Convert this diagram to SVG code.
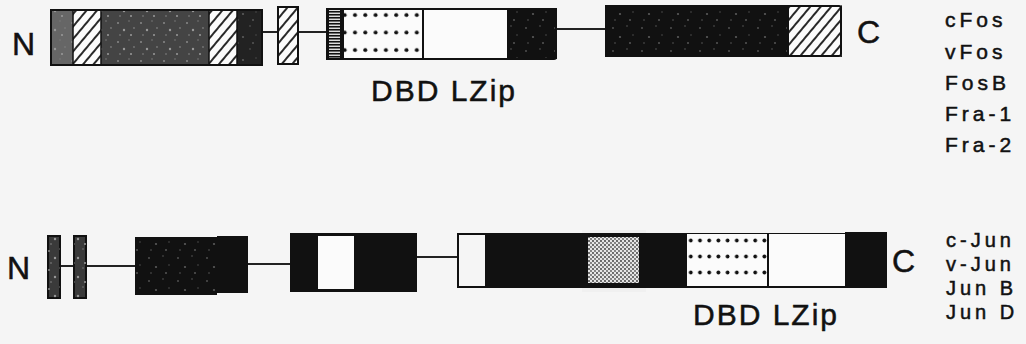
<svg xmlns="http://www.w3.org/2000/svg" width="1026" height="344" viewBox="0 0 1026 344">
  <defs>
    <pattern id="hatch" patternUnits="userSpaceOnUse" width="8" height="8" patternTransform="rotate(40)">
      <rect width="8" height="8" fill="#fbfbfb"/>
      <line x1="1" y1="0" x2="1" y2="8" stroke="#111" stroke-width="1.8"/>
    </pattern>
    <pattern id="speckle" patternUnits="userSpaceOnUse" width="23" height="19">
      <circle cx="3" cy="4" r="1" fill="#888"/>
      <circle cx="14" cy="2" r="0.8" fill="#777"/>
      <circle cx="9" cy="11" r="1.2" fill="#999"/>
      <circle cx="19" cy="9" r="0.9" fill="#777"/>
      <circle cx="5" cy="16" r="0.8" fill="#888"/>
      <circle cx="16" cy="16" r="1" fill="#999"/>
    </pattern>
    <pattern id="speckleDark" patternUnits="userSpaceOnUse" width="29" height="23">
      <circle cx="4" cy="5" r="0.9" fill="#555"/>
      <circle cx="18" cy="3" r="0.7" fill="#666"/>
      <circle cx="11" cy="14" r="1.1" fill="#5a5a5a"/>
      <circle cx="24" cy="12" r="0.8" fill="#4a4a4a"/>
      <circle cx="6" cy="20" r="0.7" fill="#666"/>
      <circle cx="21" cy="20" r="1" fill="#555"/>
    </pattern>
    <pattern id="dotsTop" patternUnits="userSpaceOnUse" x="350" y="7" width="10.3" height="17.5">
      <circle cx="5" cy="8" r="2" fill="#111"/>
    </pattern>
    <pattern id="dotsBot" patternUnits="userSpaceOnUse" x="695" y="232" width="9.2" height="16">
      <circle cx="5" cy="8.5" r="1.9" fill="#111"/>
    </pattern>
    <pattern id="stipple" patternUnits="userSpaceOnUse" width="4" height="4">
      <rect width="4" height="4" fill="#e6e6e6"/>
      <circle cx="1" cy="1" r="0.9" fill="#333"/>
      <circle cx="3" cy="3" r="0.9" fill="#555"/>
    </pattern>
    <pattern id="comb" patternUnits="userSpaceOnUse" x="326" y="9" width="18" height="3">
      <rect width="18" height="3" fill="#111"/>
      <rect x="3" y="0.6" width="11" height="1.3" fill="#f4f4f4"/>
    </pattern>
    <style>
      .lbl { font-family: "Liberation Sans", Arial, sans-serif; fill: #111; stroke: #111; stroke-width: 0.5px; }
      .end { font-size: 32px; }
      .dbd { font-size: 30px; letter-spacing: 2px; }
      .fos { font-size: 21px; letter-spacing: 4px; }
      .jun { font-size: 20px; letter-spacing: 4px; }
      .blk { fill: #111; }
      .ol { fill: none; stroke: #111; stroke-width: 2; }
      .conn line { stroke: #222; stroke-width: 2; }
    </style>
  </defs>

  <rect width="1026" height="344" fill="#f5f5f5"/>

  <!-- connectors -->
  <g id="connectors" class="conn">
    <line x1="262" y1="32" x2="278" y2="32"/>
    <line x1="298" y1="32" x2="326" y2="32"/>
    <line x1="557" y1="29" x2="605" y2="29"/>
    <line x1="60" y1="266" x2="73" y2="266"/>
    <line x1="86" y1="266" x2="135" y2="266"/>
    <line x1="248" y1="264" x2="290" y2="264"/>
    <line x1="417" y1="257" x2="457" y2="257"/>
  </g>

  <!-- Fos family -->
  <g id="fos-n-region">
    <rect x="51" y="10" width="22" height="55" fill="#666"/>
    <rect x="51" y="10" width="22" height="55" fill="url(#speckle)"/>
    <rect x="73" y="10" width="28" height="55" fill="url(#hatch)"/>
    <rect x="101" y="10" width="108" height="55" fill="#444"/>
    <rect x="101" y="10" width="108" height="55" fill="url(#speckle)"/>
    <rect x="209" y="10" width="28" height="55" fill="url(#hatch)"/>
    <rect x="237" y="10" width="25" height="55" fill="#222"/>
    <rect x="237" y="10" width="25" height="55" fill="url(#speckleDark)"/>
    <rect x="51" y="10" width="211" height="55" class="ol"/>
    <line x1="73" y1="10" x2="73" y2="65" stroke="#111" stroke-width="1.5"/>
    <line x1="101" y1="10" x2="101" y2="65" stroke="#111" stroke-width="1.5"/>
    <line x1="209" y1="10" x2="209" y2="65" stroke="#111" stroke-width="1.5"/>
    <line x1="237" y1="10" x2="237" y2="65" stroke="#111" stroke-width="1.5"/>
  </g>
  <g id="fos-small-hatched">
    <rect x="278" y="7" width="20" height="57" fill="url(#hatch)" stroke="#111" stroke-width="2"/>
  </g>
  <g id="fos-dbd-lzip">
    <rect x="326" y="8" width="18" height="52" fill="url(#comb)"/>
    <rect x="344" y="8" width="79" height="52" fill="#fbfbfb"/>
    <rect x="344" y="8" width="79" height="52" fill="url(#dotsTop)"/>
    <rect x="423" y="8" width="84" height="52" fill="#fbfbfb"/>
    <rect x="507" y="8" width="50" height="51" class="blk"/>
    <rect x="507" y="8" width="50" height="51" fill="url(#speckleDark)"/>
    <rect x="327" y="9" width="229" height="50" class="ol" rx="2"/>
    <line x1="423" y1="8" x2="423" y2="60" stroke="#111" stroke-width="2"/>
    <text x="371" y="101" class="lbl dbd">DBD LZip</text>
  </g>
  <g id="fos-c-region">
    <rect x="605" y="5" width="183" height="52" class="blk"/>
    <rect x="605" y="5" width="183" height="52" fill="url(#speckleDark)"/>
    <rect x="788" y="5" width="54" height="52" fill="url(#hatch)"/>
    <rect x="606" y="6" width="235" height="50" class="ol" rx="2"/>
    <line x1="788" y1="5" x2="788" y2="57" stroke="#111" stroke-width="2"/>
  </g>
  <g id="fos-labels">
    <text x="12" y="55" class="lbl end">N</text>
    <text x="857" y="43" class="lbl end">C</text>
    <text x="945" y="27" class="lbl fos">cFos</text>
    <text x="945" y="59" class="lbl fos">vFos</text>
    <text x="945" y="90" class="lbl fos">FosB</text>
    <text x="945" y="121" class="lbl fos">Fra-1</text>
    <text x="945" y="152" class="lbl fos">Fra-2</text>
  </g>

  <!-- Jun family -->
  <g id="jun-n-bars">
    <rect x="48" y="236" width="12" height="62" fill="#3a3a3a" stroke="#111" stroke-width="2"/>
    <rect x="48" y="236" width="12" height="62" fill="url(#speckle)"/>
    <rect x="74" y="236" width="12" height="62" fill="#3a3a3a" stroke="#111" stroke-width="2"/>
    <rect x="74" y="236" width="12" height="62" fill="url(#speckle)"/>
  </g>
  <g id="jun-block-1">
    <rect x="135" y="237" width="82" height="58" class="blk"/>
    <rect x="135" y="237" width="82" height="58" fill="url(#speckleDark)"/>
    <rect x="217" y="236" width="31" height="57" class="blk"/>
  </g>
  <g id="jun-block-2">
    <rect x="290" y="233" width="127" height="59" class="blk"/>
    <rect x="318" y="236" width="36" height="53" fill="#fbfbfb"/>
  </g>
  <g id="jun-dbd-lzip">
    <rect x="582" y="230" width="64" height="62" fill="#f0f0f0"/>
    <rect x="458" y="234" width="428" height="53" class="ol"/>
    <rect x="485" y="233" width="98" height="55" class="blk"/>
    <rect x="588" y="237" width="51" height="46" fill="url(#stipple)"/>
    <rect x="584" y="234" width="60" height="3" class="blk"/>
    <rect x="584" y="283" width="60" height="4" class="blk"/>
    <rect x="583" y="233" width="5" height="55" class="blk"/>
    <rect x="639" y="233" width="7" height="55" class="blk"/>
    <rect x="646" y="233" width="41" height="55" class="blk"/>
    <rect x="687" y="234" width="81" height="52" fill="#fbfbfb"/>
    <rect x="687" y="234" width="81" height="52" fill="url(#dotsBot)"/>
    <rect x="768" y="234" width="77" height="52" fill="#fbfbfb"/>
    <line x1="768" y1="234" x2="768" y2="287" stroke="#111" stroke-width="2"/>
    <rect x="845" y="232" width="42" height="56" class="blk"/>
    <text x="693" y="325" class="lbl dbd">DBD LZip</text>
  </g>
  <g id="jun-labels">
    <text x="7" y="279" class="lbl end">N</text>
    <text x="892" y="272" class="lbl end">C</text>
    <text x="946" y="247" class="lbl jun">c-Jun</text>
    <text x="946" y="271" class="lbl jun">v-Jun</text>
    <text x="946" y="295" class="lbl jun">Jun B</text>
    <text x="946" y="319" class="lbl jun">Jun D</text>
  </g>
</svg>
